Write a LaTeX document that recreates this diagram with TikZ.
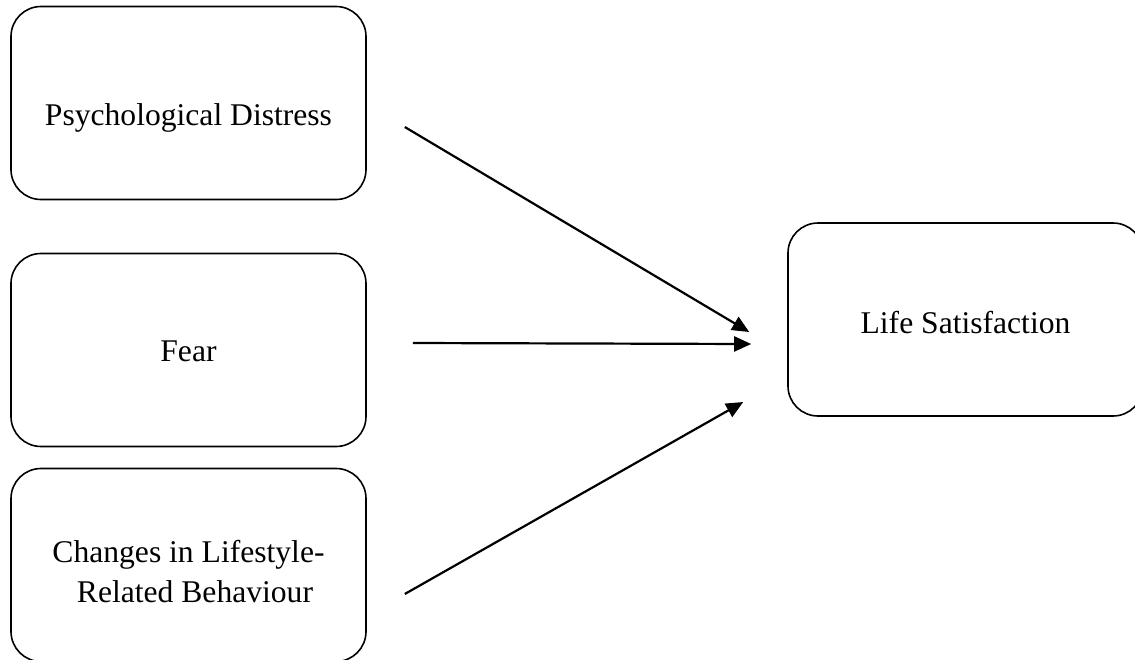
\documentclass[tikz,border=0pt]{standalone}
\usepackage{fontspec}
\setmainfont{Liberation Serif}
\usetikzlibrary{arrows.meta}
\begin{document}
\begin{tikzpicture}[x=1pt, y=-1pt,
        box/.style={draw, line width=1.6pt, rounded corners=30pt, minimum width=355pt, minimum height=193pt,
            inner sep=0pt, align=center, font=\fontsize{31.6}{40}\selectfont, text height=22pt, text depth=0pt},
        link/.style={line width=2.2pt, -{Triangle[length=17pt, width=15pt]}}]
        \useasboundingbox (0, 0) rectangle (1135, 659);
        \node[box, text height=44pt] (distress) at (188.5, 103) {Psychological Distress};
        \node[box] (fear) at (188.5, 350) {Fear};
        \node[box, text height=74pt] (changes) at (188.5, 565) {Changes in Lifestyle-\\\hspace*{13pt}Related Behaviour};
        \node[box, text height=27pt] (life) at (965.5, 319.5) {Life Satisfaction};
        \draw[link] ([shift={(38, 24)}]distress.east) -- ([shift={(-38, 12.5)}]life.west);
        \draw[link] ([shift={(46, -7)}]fear.east) -- ([shift={(-36, 24.5)}]life.west);
        \draw[link] ([shift={(38, 29)}]changes.east) -- ([shift={(-44, 82.5)}]life.west);
    \end{tikzpicture}
\end{document}
